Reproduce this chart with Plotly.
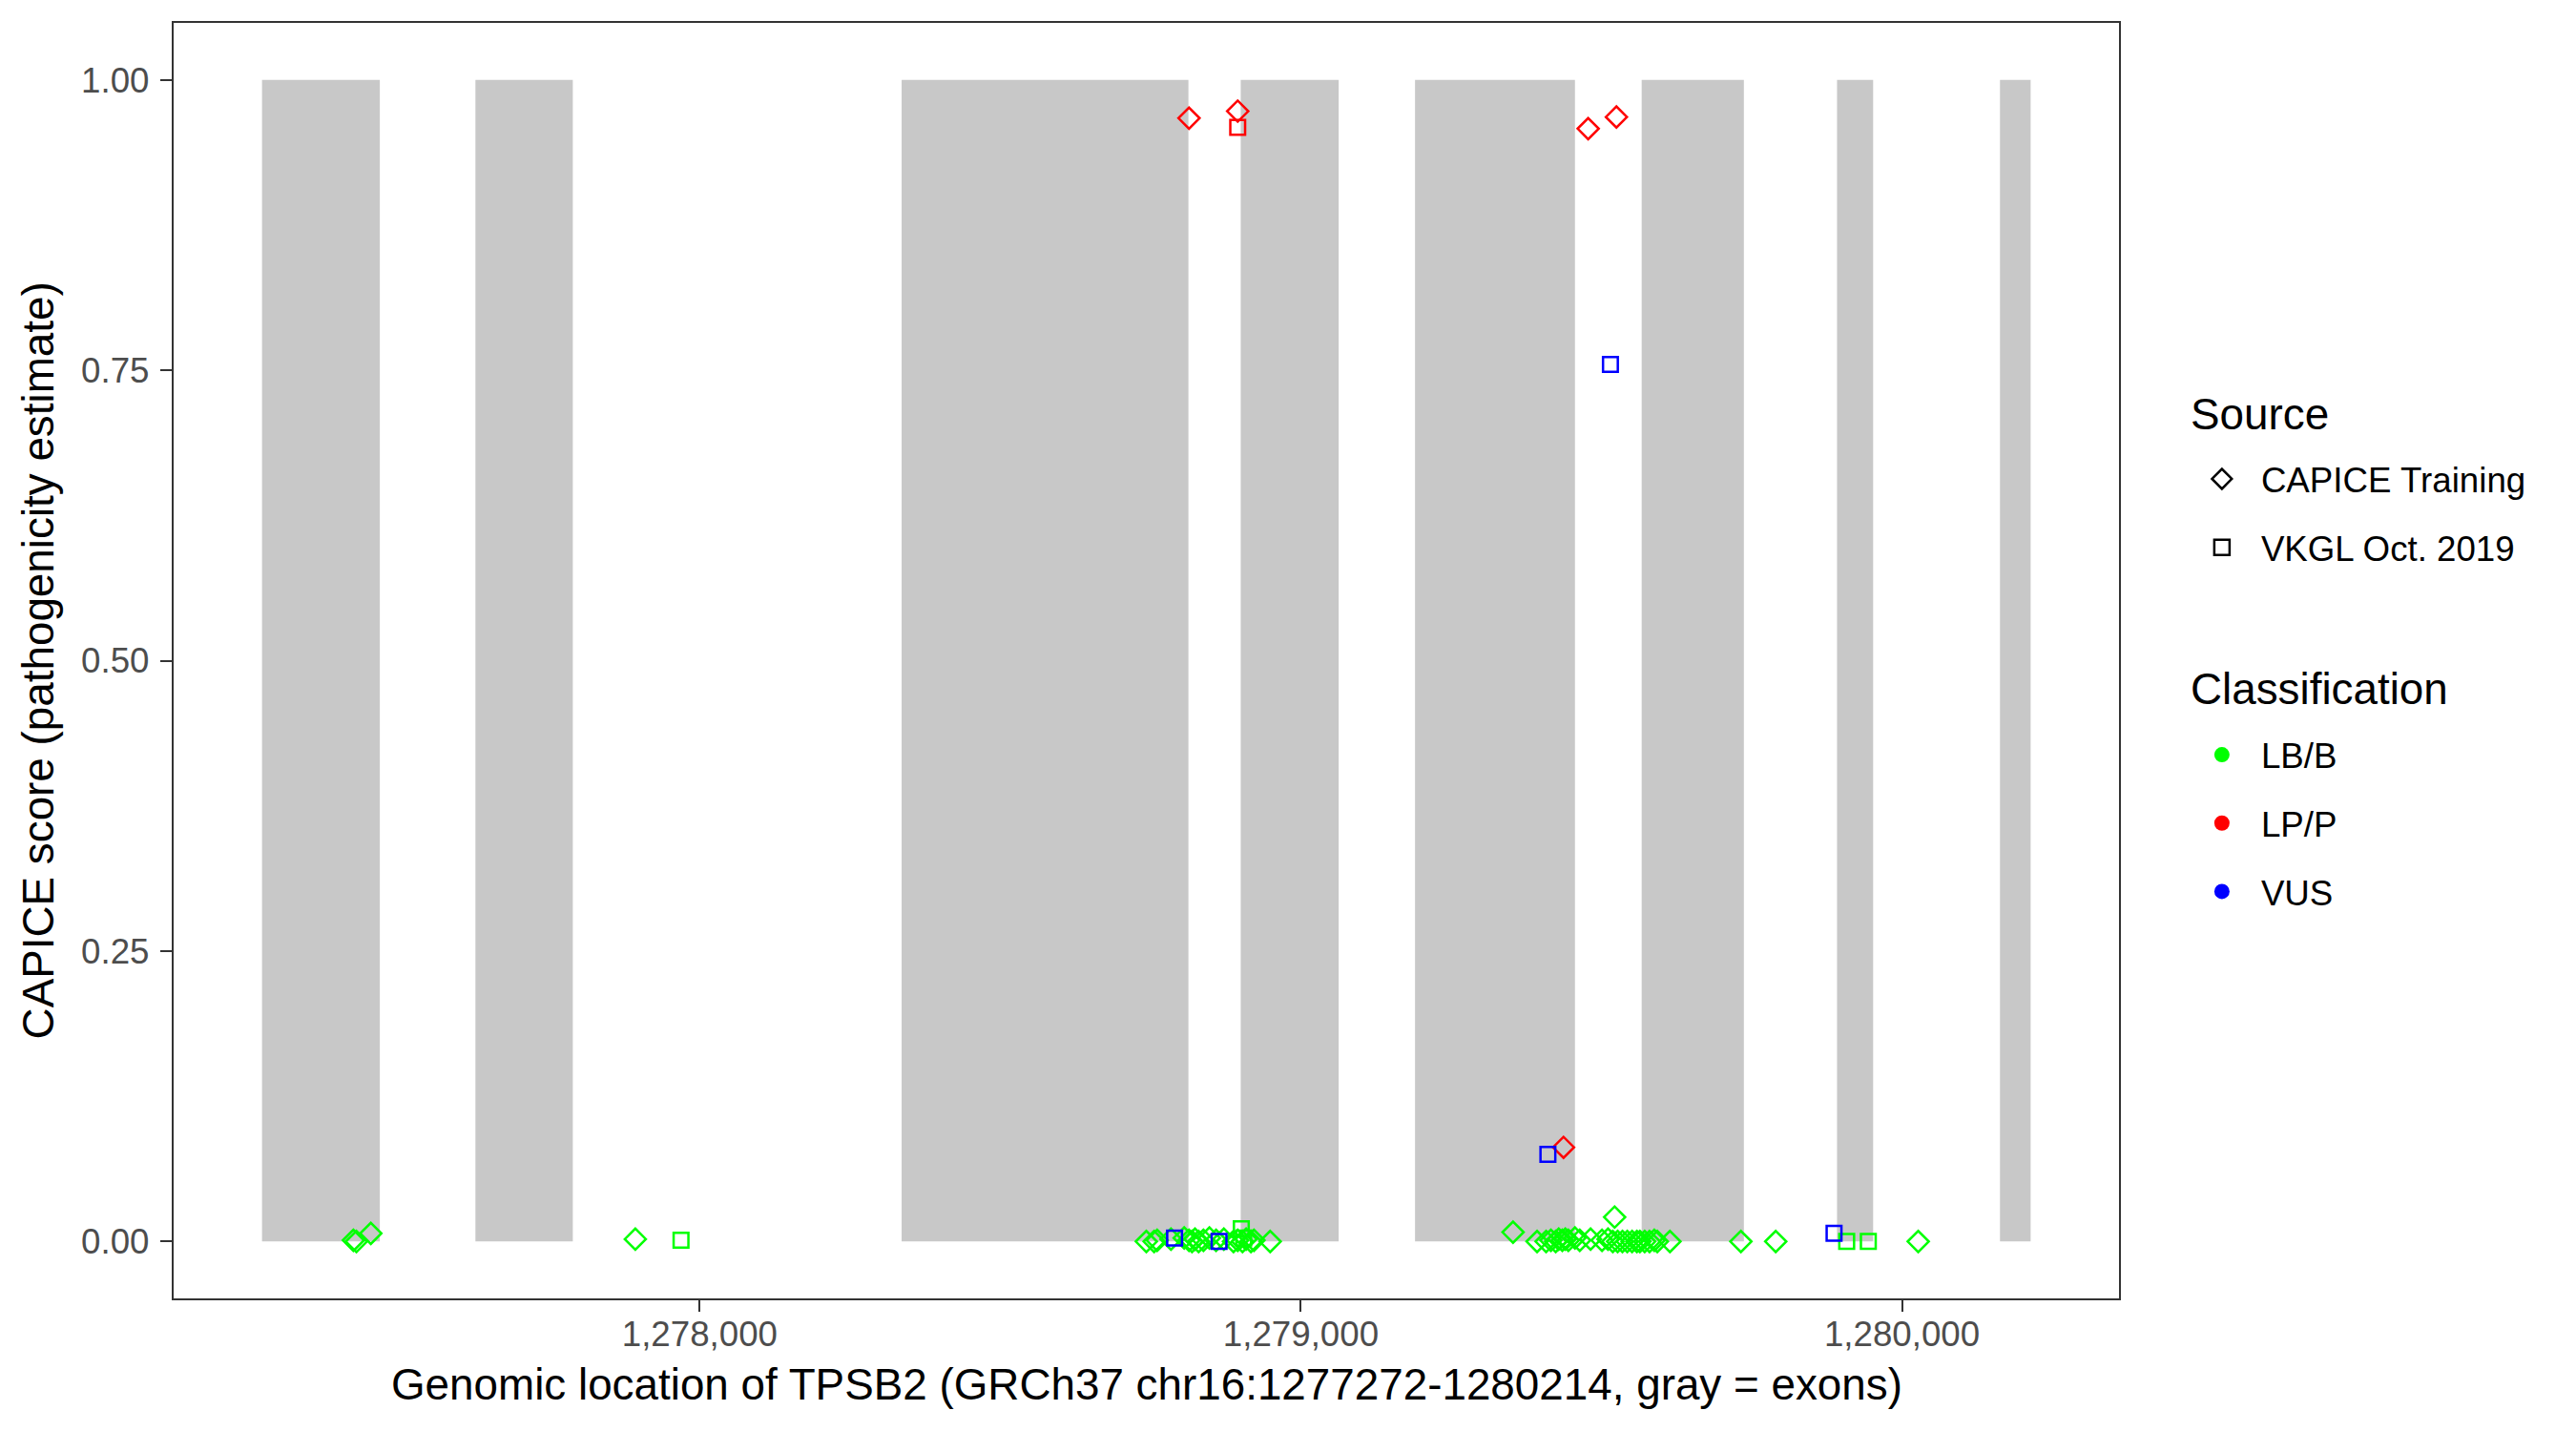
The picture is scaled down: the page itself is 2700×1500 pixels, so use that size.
import plotly.graph_objects as go

# exon boundaries (gray bands)
exon_start = [1277272, 1277627, 1278336, 1278900, 1279190, 1279567, 1279892, 1280163]
exon_end = [1277468, 1277789, 1278813, 1279063, 1279456, 1279737, 1279952, 1280214]

# CAPICE training variants (diamonds)
capice_pos = [1277424, 1277429, 1277453, 1277893,
              1278743, 1278756, 1278761, 1278784, 1278806, 1278814, 1278819, 1278824,
              1278830, 1278838, 1278848, 1278859, 1278872, 1278888, 1278895, 1278903,
              1278909, 1278917, 1278922, 1278949,
              1279353, 1279393, 1279408, 1279416, 1279424, 1279429, 1279435, 1279440,
              1279445, 1279456, 1279464, 1279482, 1279501, 1279511, 1279519, 1279522,
              1279527, 1279535, 1279543, 1279551, 1279559, 1279564, 1279572, 1279580,
              1279588, 1279593, 1279614, 1279732, 1279790, 1280027,
              1278814, 1278895, 1279437, 1279478, 1279525]
capice_score = [0.001, 0.000, 0.007, 0.002,
                0.000, 0.000, 0.001, 0.002, 0.003, 0.001, 0.000, 0.002,
                0.000, 0.001, 0.003, 0.001, 0.002, 0.000, 0.001, 0.000,
                0.002, 0.000, 0.001, 0.000,
                0.008, 0.000, 0.000, 0.001, 0.000, 0.002, 0.001, 0.002,
                0.001, 0.003, 0.001, 0.002, 0.001, 0.002, 0.000, 0.021,
                0.000, 0.000, 0.000, 0.000, 0.000, 0.000, 0.000, 0.000,
                0.001, 0.000, 0.000, 0.000, 0.000, 0.000,
                0.967, 0.973, 0.081, 0.958, 0.968]
capice_class = ['LB/B'] * 54 + ['LP/P'] * 5

# VKGL Oct. 2019 variants (squares)
vkgl_pos = [1277969, 1278901, 1278905, 1279908, 1279944,
            1278895,
            1278790, 1278864, 1279411, 1279515, 1279887]
vkgl_score = [0.001, 0.011, 0.003, 0.000, 0.000,
              0.959,
              0.003, 0.000, 0.075, 0.755, 0.007]
vkgl_class = ['LB/B'] * 5 + ['LP/P'] + ['VUS'] * 5

classes = ['LB/B', 'LP/P', 'VUS']
class_colors = {'LB/B': '#00FF00', 'LP/P': '#FF0000', 'VUS': '#0000FF'}

font_family = 'Liberation Sans, Arial, sans-serif'

fig = go.Figure()

# exons as gray bands from 0 to 1
for s, e in zip(exon_start, exon_end):
    fig.add_shape(type='rect', xref='x', yref='y', x0=s, x1=e, y0=0, y1=1,
                  fillcolor='#C8C8C8', line=dict(width=0), layer='below')

sources = [
    ('CAPICE Training', capice_pos, capice_score, capice_class, 'diamond-open', 17),
    ('VKGL Oct. 2019', vkgl_pos, vkgl_score, vkgl_class, 'square-open', 15.5),
]
for name, pos, score, cls, symbol, size in sources:
    for c in classes:
        xs = [p for p, k in zip(pos, cls) if k == c]
        ys = [v for v, k in zip(score, cls) if k == c]
        if not xs:
            continue
        fig.add_trace(go.Scatter(
            x=xs, y=ys, mode='markers', showlegend=False,
            marker=dict(symbol=symbol, size=size, color=class_colors[c],
                        line=dict(width=2.5, color=class_colors[c])),
        ))

# legend entries
for i, (name, symbol) in enumerate([('CAPICE Training', 'diamond-open'), ('VKGL Oct. 2019', 'square-open')]):
    fig.add_trace(go.Scatter(
        x=[None], y=[None], mode='markers', name=name, legend='legend',
        legendgroup='s%d' % i,
        marker=dict(symbol=symbol, size=16, color='black', line=dict(width=2.5, color='black')),
    ))
for i, c in enumerate(classes):
    fig.add_trace(go.Scatter(
        x=[None], y=[None], mode='markers', name=c, legend='legend2',
        legendgroup='c%d' % i,
        marker=dict(symbol='circle', size=16, color=class_colors[c]),
    ))

axis_style = dict(
    showgrid=False, zeroline=False, showline=True, mirror=True,
    linecolor='#333333', linewidth=2.3,
    ticks='outside', ticklen=12, tickwidth=2.3, tickcolor='#333333',
    tickfont=dict(family=font_family, size=36.7, color='#4D4D4D'),
)

fig.update_xaxes(range=[1277125, 1280361], tickvals=[1278000, 1279000, 1280000],
                 tickformat=',d', ticklabelstandoff=-8, **axis_style)
fig.update_yaxes(range=[-0.049, 1.049], tickvals=[0, 0.25, 0.5, 0.75, 1.0],
                 tickformat='.2f', ticklabelstandoff=4, **axis_style)

legend_common = dict(
    xanchor='left', yanchor='top', bgcolor='rgba(0,0,0,0)',
    font=dict(family=font_family, size=36.7, color='black'),
    itemwidth=72, traceorder='grouped', tracegroupgap=21,
)

title_font = dict(family=font_family, size=45.8, color='black')

fig.update_layout(
    width=2684, height=1484,
    margin=dict(l=174, r=471, t=16, b=131),
    plot_bgcolor='white', paper_bgcolor='white',
    font=dict(family=font_family, color='black'),
    legend=dict(x=1.0328, y=0.6652, **legend_common),
    legend2=dict(x=1.0328, y=0.4490, **legend_common),
    annotations=[
        dict(text='Source', xref='paper', yref='paper', x=1.0358, y=0.6933,
             xanchor='left', yanchor='middle', showarrow=False, font=title_font),
        dict(text='Classification', xref='paper', yref='paper', x=1.0358, y=0.4779,
             xanchor='left', yanchor='middle', showarrow=False, font=title_font),
        dict(text='Genomic location of TPSB2 (GRCh37 chr16:1277272-1280214, gray = exons)',
             xref='paper', yref='paper', x=0.5, y=-0.068, xanchor='center', yanchor='middle',
             showarrow=False, font=title_font),
        dict(text='CAPICE score (pathogenicity estimate)',
             xref='paper', yref='paper', x=-0.0692, y=0.5, xanchor='center', yanchor='middle',
             textangle=-90, showarrow=False, font=title_font),
    ],
)

fig.write_html('out.html')
